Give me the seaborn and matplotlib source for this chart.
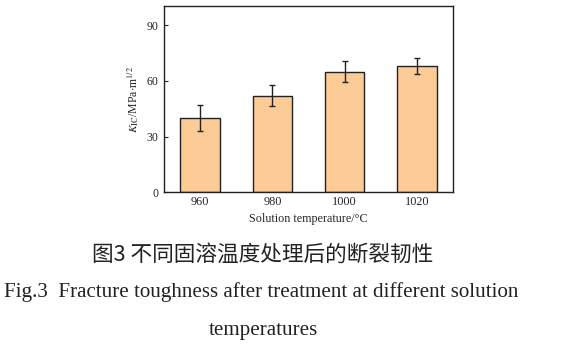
import matplotlib
matplotlib.use("Agg")
import matplotlib.pyplot as plt
import seaborn as sns
import pandas as pd

temps = ["960", "980", "1000", "1020"]
kic = [40, 52, 65, 68]
err = [7, 5.7, 5.5, 4.2]
yticks = [0, 30, 60, 90]

sns.set_style("ticks")
plt.rcParams['font.family'] = ['Liberation Serif', 'DejaVu Serif']
plt.rcParams['mathtext.fontset'] = 'stix'

df = pd.DataFrame({"temp": temps, "kic": kic})

fig = plt.figure(figsize=(5.78, 3.47), dpi=100)
ax = fig.add_axes([164/578, 1-192.3/347, (453-164)/578, (192.3-6)/347])
sns.barplot(data=df, x="temp", y="kic", ax=ax, color="#FDCB96", saturation=1,
            width=0.55, edgecolor="#222222", linewidth=1.0, errorbar=None)
ax.errorbar(range(len(temps)), kic, yerr=err, fmt="none", ecolor="#222222",
            elinewidth=1.0, capsize=2.5, capthick=1.0)
ax.set_xlim(-0.5, 3.5)
ax.set_ylim(0, 100.3)
ax.set_yticks(yticks)
ax.tick_params(axis="y", direction="in", length=3, labelsize=8.5, pad=4)
ax.tick_params(axis="x", length=0, labelsize=8.8, pad=3)
for s in ax.spines.values():
    s.set_visible(True)
    s.set_linewidth(1.0)
    s.set_color("#222222")
ax.set_xlabel("Solution temperature/°C", fontsize=8.7, labelpad=3.5)
ax.set_ylabel(r"$K_{\rm IC}$/MPa$\cdot$m$^{1/2}$", fontsize=8.5, labelpad=4)

fig.text(263/578, 1-255/347, "图3 不同固溶温度处理后的断裂韧性", ha="center", va="center",
         fontsize=15.6, family=["Noto Sans CJK SC", "DejaVu Sans"], color="#222222")
fig.text(261/578, 1-292/347, "Fig.3  Fracture toughness after treatment at different solution",
         ha="center", va="center", fontsize=15.1, color="#222222")
fig.text(263/578, 1-330/347, "temperatures", ha="center", va="center",
         fontsize=15.1, color="#222222")

fig.savefig("out.png", dpi=100)
